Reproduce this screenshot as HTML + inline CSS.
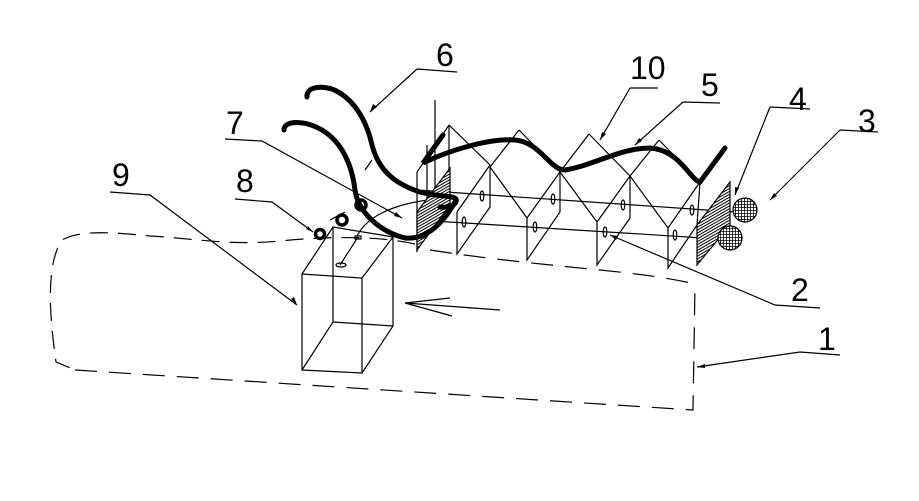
<!DOCTYPE html>
<html><head><meta charset="utf-8"><style>
html,body{margin:0;padding:0;background:#fff;}
svg{display:block;}
text{font-family:"Liberation Sans",sans-serif;font-size:32px;fill:#000;}
</style></head><body>
<svg width="919" height="501" viewBox="0 0 919 501" xmlns="http://www.w3.org/2000/svg">
<defs>
<pattern id="h" width="2.5" height="2.5" patternUnits="userSpaceOnUse" patternTransform="rotate(60)">
<rect width="2.5" height="2.5" fill="#fff"/><line x1="0" y1="0" x2="0" y2="2.5" stroke="#000" stroke-width="2"/>
</pattern>
<pattern id="g" width="3" height="3" patternUnits="userSpaceOnUse">
<rect width="3" height="3" fill="#fff"/><path d="M0,0H3M0,0V3" stroke="#000" stroke-width="1.6"/>
</pattern>
</defs>
<g fill="none" stroke="#000" stroke-width="1.2">
<path d="M415,244 C380,236 330,236 280,241 C230,246 190,238 150,236 C110,232 80,230 62,240 C45,265 50,320 56,362 L75,370" stroke-dasharray="18,10"/>
<path d="M75,370 L693,410 L695,285" stroke-dasharray="22,12"/>
<path d="M430,250 C480,258 540,264 600,270 C640,274 670,278 695,284" stroke-dasharray="22,12"/>
<path d="M302,274 L362,278 L362,373 L302,370 Z"/>
<path d="M302,274 L333,227 L393,237 L362,278"/>
<path d="M393,237 L393,326 L362,373"/>
<path d="M333,227 L333,322 L302,370 M333,322 L393,326"/>
<path d="M340,265 L358,237"/>
<ellipse cx="341" cy="265" rx="5" ry="2"/>
<rect x="355" y="236" width="6" height="3"/>
<path d="M357,236 C370,210 410,200 450,198"/>
<path d="M405,303 L500,310 M405,303 L450,298 M405,303 L452,316"/>
<path d="M449,125 L417,172 L417,252 M449,125 L490,165 L490,207 L457,254 L457,212 L490,165"/>
<path d="M519,130 L490,167 M490,167 L527,218 M519,130 L560,172 L560,212 L527,260 L527,218 L560,172"/>
<path d="M589,134 L560,172 M560,172 L597,222 M589,134 L630,176 L630,218 L597,265 L597,222 L630,176"/>
<path d="M659,140 L630,176 M630,176 L668,228 M659,140 L700,182 L697,225 L668,268 L668,228 L700,182"/>
<path d="M435,100 L435,210 M449,125 L449,200 M427,145 L427,210"/>
<path d="M417,190 L735,212 M417,220 L735,240"/>
<g>
<ellipse cx="482" cy="196" rx="1.8" ry="5"/><ellipse cx="553" cy="199" rx="1.8" ry="5"/>
<ellipse cx="623" cy="205" rx="1.8" ry="5"/><ellipse cx="692" cy="210" rx="1.8" ry="5"/>
<ellipse cx="464" cy="222" rx="1.8" ry="5"/><ellipse cx="535" cy="227" rx="1.8" ry="5"/>
<ellipse cx="605" cy="232" rx="1.8" ry="5"/><ellipse cx="675" cy="235" rx="1.8" ry="5"/>
</g>
<path d="M417,250 L417,212 L450,168 L450,205 Z" fill="url(#h)"/>
<path d="M697,265 L697,225 L730,182 L730,225 Z" fill="url(#h)"/>
<circle cx="745" cy="210" r="12" fill="url(#g)"/>
<circle cx="730" cy="238" r="12" fill="url(#g)"/>
<path d="M417,69 L457,72 M417,69 L370,112"/>
<path d="M225,139 L262,141 L402,218"/>
<path d="M110,192 L150,195 L297,305"/>
<path d="M235,199 L272,202 L313,232"/>
<path d="M630,88 L658,88 M630,88 L600,140"/>
<path d="M683,102 L720,103 M683,102 L635,145"/>
<path d="M770,107 L810,109 M770,107 L735,195"/>
<path d="M840,130 L878,132 M840,130 L770,200"/>
<path d="M610,235 L775,305 L820,308"/>
<path d="M800,352 L840,355 M800,352 L697,367"/>
<path d="M365,170 L372,160 M330,220 L345,212"/>
</g>
<g fill="#000">
<path d="M370,112 L373,104 L377,107 Z"/><path d="M402,218 L394,216 L396,212 Z"/>
<path d="M297,305 L291,299 L294,297 Z"/><path d="M313,232 L306,229 L308,226 Z"/>
<path d="M600,140 L602,132 L606,134 Z"/><path d="M635,145 L639,138 L642,141 Z"/>
<path d="M735,195 L735,187 L739,188 Z"/><path d="M770,200 L774,193 L777,196 Z"/>
<path d="M610,235 L618,236 L616,240 Z"/><path d="M697,367 L705,364 L705,368 Z"/>
</g>
<g fill="none" stroke="#000" stroke-width="5" stroke-linecap="round">
<path d="M307,97 C306,88 318,85 332,89 C352,97 366,118 372,145 C378,168 392,183 420,192 C438,197 452,195 456,199 C458,205 448,208 440,207"/>
<path d="M284,130 C284,120 305,120 322,130 C342,142 352,165 355,190 C358,212 380,232 405,238 C425,240 442,225 455,202"/>
<path d="M443,135 L423,163 C450,150 490,138 515,140 C540,142 550,170 565,170 C595,165 620,148 650,148 C680,150 690,180 700,182 L725,148"/>
<circle cx="320" cy="234" r="4.5" stroke-width="3.5"/>
<circle cx="342" cy="220" r="5" stroke-width="3.5"/>
<circle cx="361" cy="205" r="5" stroke-width="3.5"/>
</g>
<text x="436" y="66">6</text>
<text x="630" y="79">10</text>
<text x="701" y="96">5</text>
<text x="789" y="110">4</text>
<text x="858" y="132">3</text>
<text x="226" y="134">7</text>
<text x="112" y="186">9</text>
<text x="236" y="192">8</text>
<text x="791" y="301">2</text>
<text x="818" y="350">1</text>
</svg>
</body></html>
